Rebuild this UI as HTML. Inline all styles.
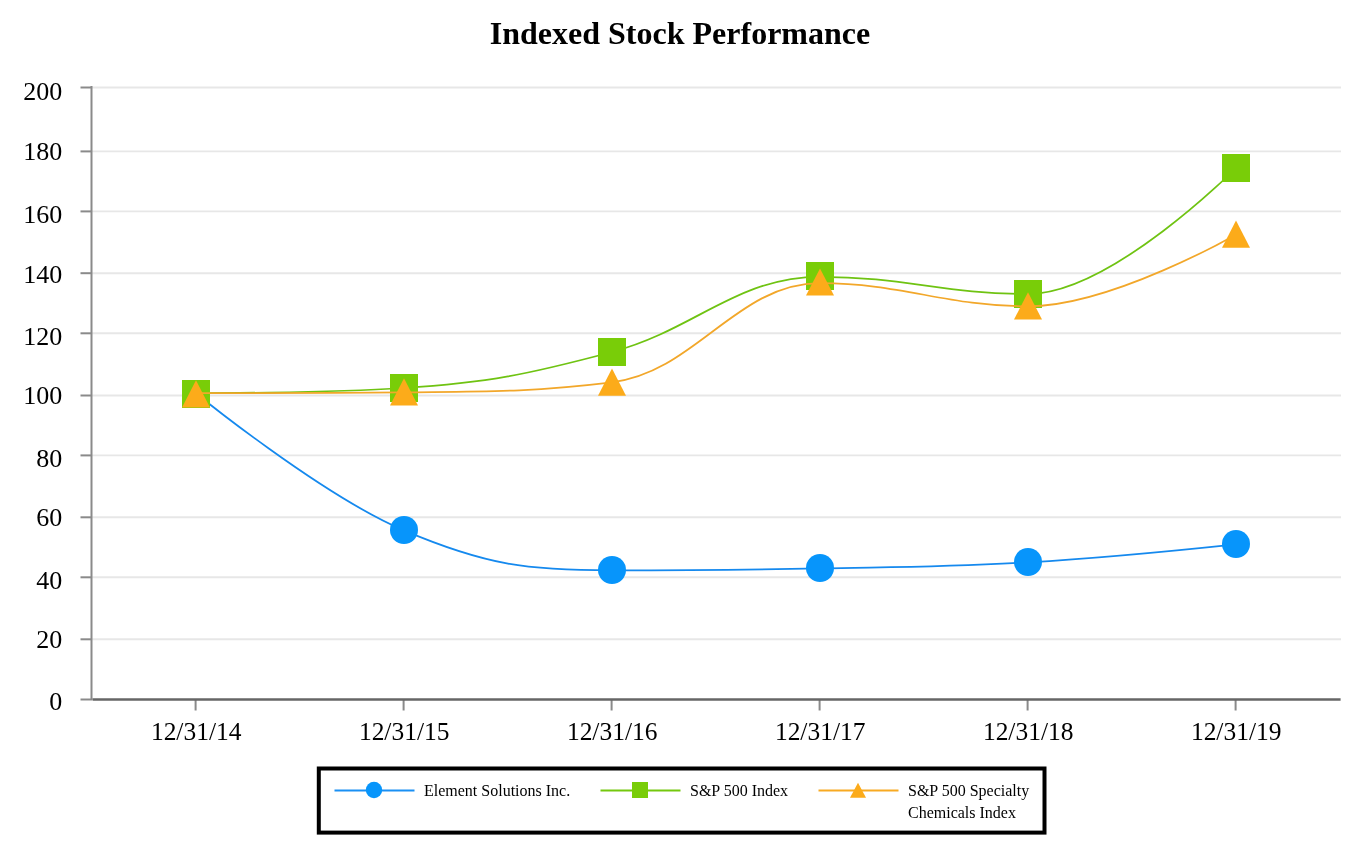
<!DOCTYPE html>
<html lang="en">
<head>
<meta charset="utf-8">
<title>Indexed Stock Performance</title>
<style>
html,body{margin:0;padding:0;background:#fff;}
body{width:1360px;height:852px;overflow:hidden;}
svg{display:block;}
text{font-family:"Liberation Serif", "Times New Roman", Times, serif;fill:#000;}
.ax{font-size:26px;}
.lg{font-size:16px;}
.ttl{font-size:32px;font-weight:bold;}
</style>
</head>
<body>
<svg width="1360" height="852" viewBox="0 0 1360 852">
<rect x="0" y="0" width="1360" height="852" fill="#ffffff"/>
<text class="ttl" x="680" y="43.8" text-anchor="middle">Indexed Stock Performance</text>
<g stroke="#e7e7e7" stroke-width="1.9">
<line x1="92" y1="87.5" x2="1341" y2="87.5"/>
<line x1="92" y1="151.4" x2="1341" y2="151.4"/>
<line x1="92" y1="211.4" x2="1341" y2="211.4"/>
<line x1="92" y1="273.2" x2="1341" y2="273.2"/>
<line x1="92" y1="333.3" x2="1341" y2="333.3"/>
<line x1="92" y1="395.5" x2="1341" y2="395.5"/>
<line x1="92" y1="455.4" x2="1341" y2="455.4"/>
<line x1="92" y1="517.3" x2="1341" y2="517.3"/>
<line x1="92" y1="577.3" x2="1341" y2="577.3"/>
<line x1="92" y1="639.3" x2="1341" y2="639.3"/>
</g>
<g stroke="#8a8a8a" stroke-width="2">
<line x1="91.5" y1="86" x2="91.5" y2="700"/>
<line x1="80.5" y1="87.5" x2="92" y2="87.5"/>
<line x1="80.5" y1="151.4" x2="92" y2="151.4"/>
<line x1="80.5" y1="211.4" x2="92" y2="211.4"/>
<line x1="80.5" y1="273.2" x2="92" y2="273.2"/>
<line x1="80.5" y1="333.3" x2="92" y2="333.3"/>
<line x1="80.5" y1="395.5" x2="92" y2="395.5"/>
<line x1="80.5" y1="455.4" x2="92" y2="455.4"/>
<line x1="80.5" y1="517.3" x2="92" y2="517.3"/>
<line x1="80.5" y1="577.3" x2="92" y2="577.3"/>
<line x1="80.5" y1="639.3" x2="92" y2="639.3"/>
<line x1="80.5" y1="699.5" x2="92" y2="699.5"/>
<line x1="195.6" y1="700" x2="195.6" y2="710.5"/>
<line x1="403.6" y1="700" x2="403.6" y2="710.5"/>
<line x1="611.6" y1="700" x2="611.6" y2="710.5"/>
<line x1="819.6" y1="700" x2="819.6" y2="710.5"/>
<line x1="1027.6" y1="700" x2="1027.6" y2="710.5"/>
<line x1="1235.6" y1="700" x2="1235.6" y2="710.5"/>
</g>
<line x1="92.5" y1="699.5" x2="1340.6" y2="699.5" stroke="#666666" stroke-width="2.6"/>
<text class="ax" x="62.2" y="100.40" text-anchor="end">200</text>
<text class="ax" x="62.2" y="160.35" text-anchor="end">180</text>
<text class="ax" x="62.2" y="222.70" text-anchor="end">160</text>
<text class="ax" x="62.2" y="282.50" text-anchor="end">140</text>
<text class="ax" x="62.2" y="344.50" text-anchor="end">120</text>
<text class="ax" x="62.2" y="404.40" text-anchor="end">100</text>
<text class="ax" x="62.2" y="466.75" text-anchor="end">80</text>
<text class="ax" x="62.2" y="526.45" text-anchor="end">60</text>
<text class="ax" x="62.2" y="588.50" text-anchor="end">40</text>
<text class="ax" x="62.2" y="648.45" text-anchor="end">20</text>
<text class="ax" x="62.2" y="710.40" text-anchor="end">0</text>
<text class="ax" x="196.2" y="740" text-anchor="middle" textLength="90.6" lengthAdjust="spacingAndGlyphs">12/31/14</text>
<text class="ax" x="404.2" y="740" text-anchor="middle" textLength="90.6" lengthAdjust="spacingAndGlyphs">12/31/15</text>
<text class="ax" x="612.2" y="740" text-anchor="middle" textLength="90.6" lengthAdjust="spacingAndGlyphs">12/31/16</text>
<text class="ax" x="820.2" y="740" text-anchor="middle" textLength="90.6" lengthAdjust="spacingAndGlyphs">12/31/17</text>
<text class="ax" x="1028.2" y="740" text-anchor="middle" textLength="90.6" lengthAdjust="spacingAndGlyphs">12/31/18</text>
<text class="ax" x="1236.2" y="740" text-anchor="middle" textLength="90.6" lengthAdjust="spacingAndGlyphs">12/31/19</text>
<path d="M196.00,393.20 C196.00,393.20 320.80,494.98 404.00,530.40 C487.20,565.82 528.80,570.30 612.00,570.30 C695.20,570.30 736.80,570.00 820.00,568.40 C903.20,566.80 944.80,567.12 1028.00,562.30 C1111.20,557.48 1236.00,544.30 1236.00,544.30" fill="none" stroke="#1589ee" stroke-width="1.75"/>
<circle cx="196" cy="394" r="14" fill="#0795fb"/>
<circle cx="404" cy="530" r="14" fill="#0795fb"/>
<circle cx="612" cy="570" r="14" fill="#0795fb"/>
<circle cx="820" cy="568" r="14" fill="#0795fb"/>
<circle cx="1028" cy="562" r="14" fill="#0795fb"/>
<circle cx="1236" cy="544" r="14" fill="#0795fb"/>
<path d="M196.00,393.20 C196.00,393.20 320.80,393.20 404.00,388.00 C487.20,382.80 528.80,374.24 612.00,352.00 C695.20,329.76 736.80,276.80 820.00,276.80 C903.20,276.80 944.80,294.00 1028.00,294.00 C1111.20,294.00 1236.00,168.00 1236.00,168.00" fill="none" stroke="#6fc312" stroke-width="1.75"/>
<rect x="182" y="380" width="28" height="28" fill="#79cd08"/>
<rect x="390" y="374" width="28" height="28" fill="#79cd08"/>
<rect x="598" y="338" width="28" height="28" fill="#79cd08"/>
<rect x="806" y="262" width="28" height="28" fill="#79cd08"/>
<rect x="1014" y="280" width="28" height="28" fill="#79cd08"/>
<rect x="1222" y="154" width="28" height="28" fill="#79cd08"/>
<path d="M196.00,393.20 C196.00,393.20 320.80,393.20 404.00,392.30 C487.20,391.40 528.80,392.30 612.00,382.30 C695.20,372.30 736.80,283.20 820.00,283.20 C903.20,283.20 944.80,306.30 1028.00,306.30 C1111.20,306.30 1236.00,234.40 1236.00,234.40" fill="none" stroke="#f2a72a" stroke-width="1.75"/>
<polygon points="196,380.20 210,407.40 182,407.40" fill="#fcab1a"/>
<polygon points="404,378.20 418,405.40 390,405.40" fill="#fcab1a"/>
<polygon points="612,368.50 626,395.70 598,395.70" fill="#fcab1a"/>
<polygon points="820,268.40 834,295.60 806,295.60" fill="#fcab1a"/>
<polygon points="1028,292.35 1042,319.55 1014,319.55" fill="#fcab1a"/>
<polygon points="1236,220.50 1250,247.70 1222,247.70" fill="#fcab1a"/>
<rect x="318.8" y="768.5" width="725.7" height="64.1" fill="#ffffff" stroke="#000000" stroke-width="4"/>
<line x1="334.5" y1="790.6" x2="414.5" y2="790.6" stroke="#1a90f4" stroke-width="2"/>
<circle cx="374" cy="790" r="8.2" fill="#0795fb"/>
<text class="lg" x="424" y="796">Element Solutions Inc.</text>
<line x1="600.5" y1="790.6" x2="680.5" y2="790.6" stroke="#74c80e" stroke-width="2"/>
<rect x="632" y="782" width="16" height="16" fill="#79cd08"/>
<text class="lg" x="690" y="796">S&amp;P 500 Index</text>
<line x1="818.5" y1="790.6" x2="898.5" y2="790.6" stroke="#f8aa22" stroke-width="2"/>
<polygon points="858,782.8 866,797.8 850,797.8" fill="#fcab1a"/>
<text class="lg" x="908" y="796">S&amp;P 500 Specialty</text>
<text class="lg" x="908" y="817.8">Chemicals Index</text>
</svg>
</body>
</html>
